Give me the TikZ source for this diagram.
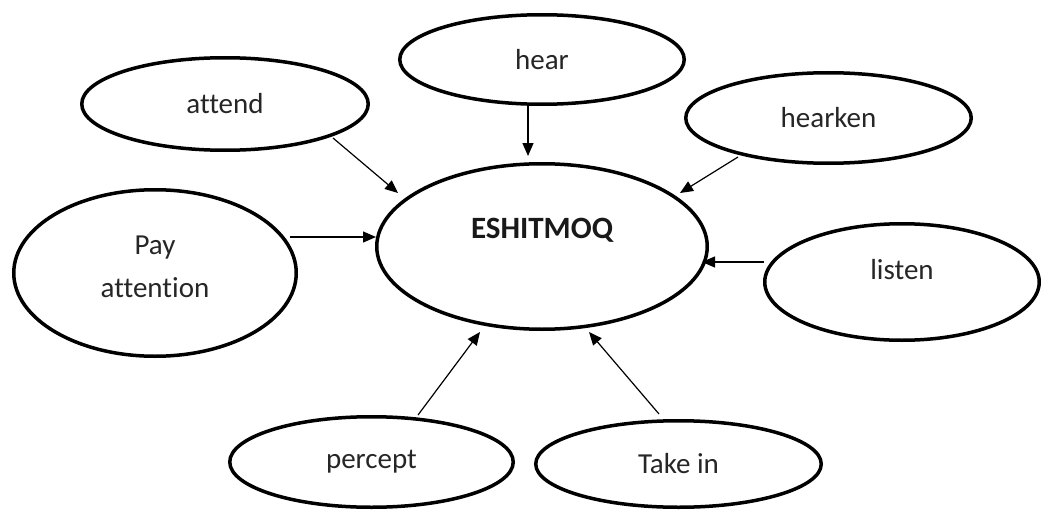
\documentclass[tikz,border=0pt]{standalone}
\usepackage{fontspec}
\setmainfont{Carlito}[Ligatures={NoCommon,NoRequired,NoContextual}]
\usetikzlibrary{shapes.geometric,arrows.meta}
\tikzset{
  bubble/.style={draw=black, line width=3.5pt, ellipse, inner sep=0pt, align=center,
    font=\fontsize{29}{43}\selectfont, text=black!85},
  arr/.style={line width=1.2pt, -{Triangle[length=13pt,width=11pt]}}
}
\begin{document}
\begin{tikzpicture}[x=1pt,y=-1pt]
\useasboundingbox[fill=white] (0,0) rectangle (1042,511);
\node[bubble, minimum width=284.5pt, minimum height=89.5pt] (hear) at (542,59.5) {hear};
\node[bubble, minimum width=286.5pt, minimum height=92.5pt] (attend) at (225,104) {attend};
\node[bubble, minimum width=285.5pt, minimum height=90.5pt] (hearken) at (828.5,118) {hearken};
\node[bubble, minimum width=330.5pt, minimum height=165.5pt,
  label={[yshift=16pt, font=\fontsize{31}{36}\selectfont\bfseries, text=black!90]center:ESHITMOQ}] (esh) at (542,246.5) {};
\node[bubble, minimum width=282.5pt, minimum height=166.5pt,
  label={[yshift=6pt, align=center, font=\fontsize{29}{43}\selectfont, text=black!85]center:Pay\\attention}] (pay) at (155,273) {};
\node[bubble, minimum width=274.5pt, minimum height=116.5pt,
  label={[yshift=12pt, font=\fontsize{29}{36}\selectfont, text=black!85]center:listen}] (listen) at (902,282) {};
\node[bubble, minimum width=283.5pt, minimum height=90.5pt] (percept) at (371.5,462) {percept};
\node[bubble, minimum width=285.5pt, minimum height=86.5pt] (takein) at (678.5,464) {Take in};

\coordinate (hearS) at (528,106);   \coordinate (hearE) at (528,156);
\coordinate (attS) at (333,138);    \coordinate (attE) at (398,193);
\coordinate (hkS) at (738,157);     \coordinate (hkE) at (680,193);
\coordinate (payS) at (290,237);    \coordinate (payE) at (376,237);
\coordinate (lisS) at (764,262);    \coordinate (lisE) at (702,262);
\coordinate (perS) at (418,415);    \coordinate (perE) at (480,332);
\coordinate (takS) at (659,414);    \coordinate (takE) at (589,332);

\draw[arr] (hearS) -- (hearE);
\draw[arr] (attS) -- (attE);
\draw[arr] (hkS) -- (hkE);
\draw[arr] (payS) -- (payE);
\draw[arr] (lisS) -- (lisE);
\draw[arr] (perS) -- (perE);
\draw[arr] (takS) -- (takE);
\end{tikzpicture}
\end{document}
